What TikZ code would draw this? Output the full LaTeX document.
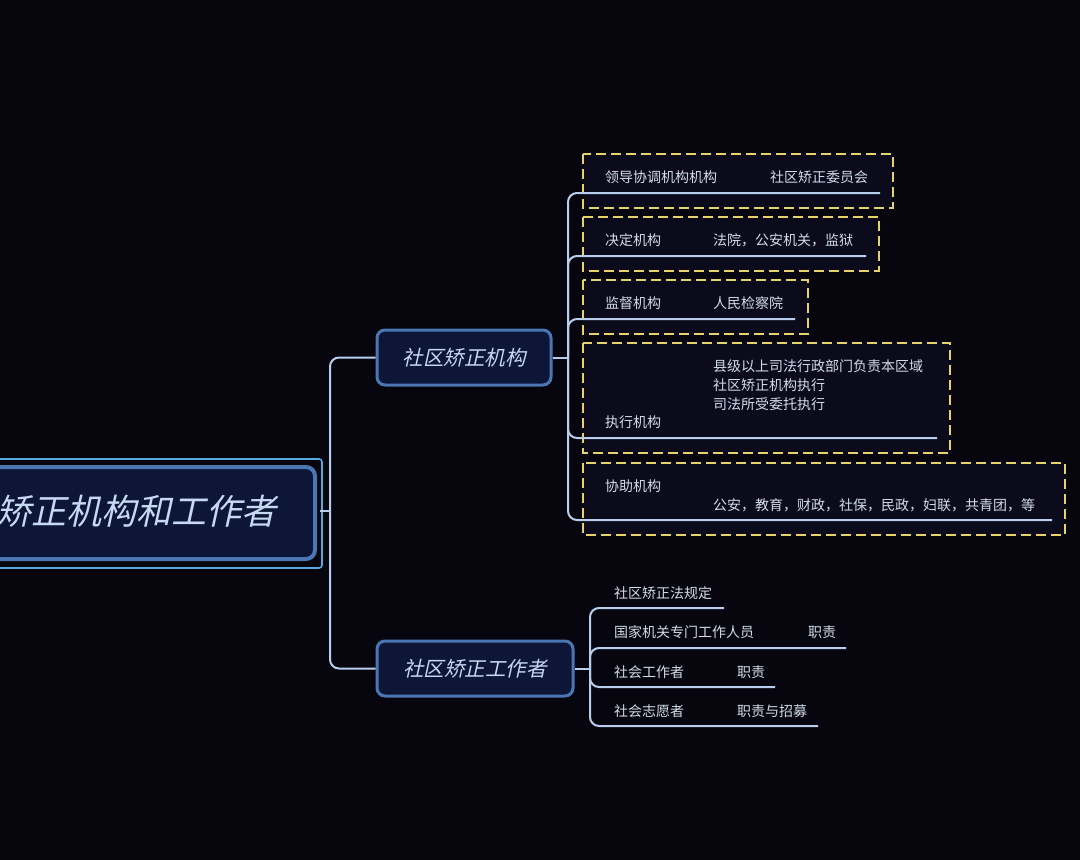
\documentclass[tikz,border=0pt]{standalone}
\usepackage{fontspec}
\usetikzlibrary{calc}
\newfontfamily\cjk{Noto Sans CJK SC}
\newfontfamily\cjkit[FakeSlant=0.22]{Noto Sans CJK SC}
\definecolor{bg}{HTML}{07050D}
\definecolor{linec}{HTML}{B9CDED}
\definecolor{ycol}{HTML}{E6D36C}
\definecolor{boxfill}{HTML}{0B0B1C}
\definecolor{navy}{HTML}{0E1637}
\definecolor{steel}{HTML}{4A76B2}
\definecolor{skyline}{HTML}{58A8E2}
\definecolor{leaftext}{HTML}{D2DCEA}
\definecolor{titletext}{HTML}{C6D8F2}
\tikzset{
  conn/.style={draw=linec, line width=2pt, rounded corners=9pt},
  ybox/.style={draw=ycol, line width=2.8pt, dash pattern=on 10pt off 5pt, fill=boxfill},
  leaf/.style={font=\cjk\fontsize{14}{19}\selectfont, text=leaftext, anchor=west, inner sep=0pt, align=left},
  midbox/.style={draw=steel, line width=3pt, fill=navy, rounded corners=8pt,
     minimum height=55pt, text=titletext, font=\cjkit\fontsize{20.5}{24}\selectfont, inner sep=0pt},
  rootbox/.style={draw=steel, line width=4pt, fill=navy, rounded corners=9pt,
     minimum width=395pt, minimum height=92pt, inner sep=0pt},
  outerrect/.style={draw=skyline, line width=1.6pt, rounded corners=3pt},
}
\begin{document}
\begin{tikzpicture}[x=1pt,y=-1pt]
\useasboundingbox (0,0) rectangle (1080,860);
\clip (0,0) rectangle (1080,860);
\fill[bg] (0,0) rectangle (1080,860);

% yellow dashed boxes
\draw[ybox] (583,154) rectangle (893,208);
\draw[ybox] (583,217) rectangle (879,271);
\draw[ybox] (583,280) rectangle (808,334);
\draw[ybox] (583,343) rectangle (950,453);
\draw[ybox] (583,463) rectangle (1065,535);

% root
\node[rootbox] (root) at (117.5,513) {};
\draw[outerrect] ($(root.south west)+(-5,7)$) rectangle ($(root.north east)+(5,-6)$);
\node[anchor=east, inner sep=0pt, text=titletext, font=\cjkit\fontsize{35}{40}\selectfont] (roottext) at (277,511) {社区矫正机构和工作者};

% middle nodes
\node[midbox, minimum width=174pt] (m1) at (464,357.5) {社区矫正机构};
\node[midbox, minimum width=196pt] (m2) at (475,668.5) {社区矫正工作者};

% hubs and ends
\coordinate (r0) at (320,511);
\coordinate (h0) at (330,511);
\coordinate (h1) at (568,357.5);
\coordinate (h2) at (590,668.5);
\coordinate (e1) at (880,193);
\coordinate (e2) at (866,256);
\coordinate (e3) at (795,319);
\coordinate (e4) at (937,438);
\coordinate (e5) at (1052,520);
\coordinate (f1) at (724,608);
\coordinate (f2) at (846,648);
\coordinate (f3) at (775,687);
\coordinate (f4) at (818,726);

% connectors
\draw[conn] (r0) -- (h0);
\draw[conn] (h0) |- (m1.west);
\draw[conn] (h0) |- (m2.west);
\draw[conn] (m1.east) -- (h1);
\foreach \e in {e1,e2,e3,e4,e5} \draw[conn] (h1) |- (\e);
\draw[conn] (m2.east) -- (h2);
\foreach \f in {f1,f2,f3,f4} \draw[conn] (h2) |- (\f);

% leaf texts, branch 1
\node[leaf] (a1) at (605,177) {领导协调机构机构};
\node[leaf] (b1) at (770,177) {社区矫正委员会};
\node[leaf] (a2) at (605,240) {决定机构};
\node[leaf] (b2) at (713,240) {法院，公安机关，监狱};
\node[leaf] (a3) at (605,303) {监督机构};
\node[leaf] (b3) at (713,303) {人民检察院};
\node[leaf] (a4) at (605,422) {执行机构};
\node[leaf] (b4) at (713,385) {县级以上司法行政部门负责本区域\\社区矫正机构执行\\司法所受委托执行};
\node[leaf] (a5) at (605,486) {协助机构};
\node[leaf] (b5) at (713,505) {公安，教育，财政，社保，民政，妇联，共青团，等};

% leaf texts, branch 2
\node[leaf] (c1) at (614,593) {社区矫正法规定};
\node[leaf] (c2) at (614,632) {国家机关专门工作人员};
\node[leaf] (d2) at (808,632) {职责};
\node[leaf] (c3) at (614,672) {社会工作者};
\node[leaf] (d3) at (737,672) {职责};
\node[leaf] (c4) at (614,711) {社会志愿者};
\node[leaf] (d4) at (737,711) {职责与招募};
\end{tikzpicture}
\end{document}
